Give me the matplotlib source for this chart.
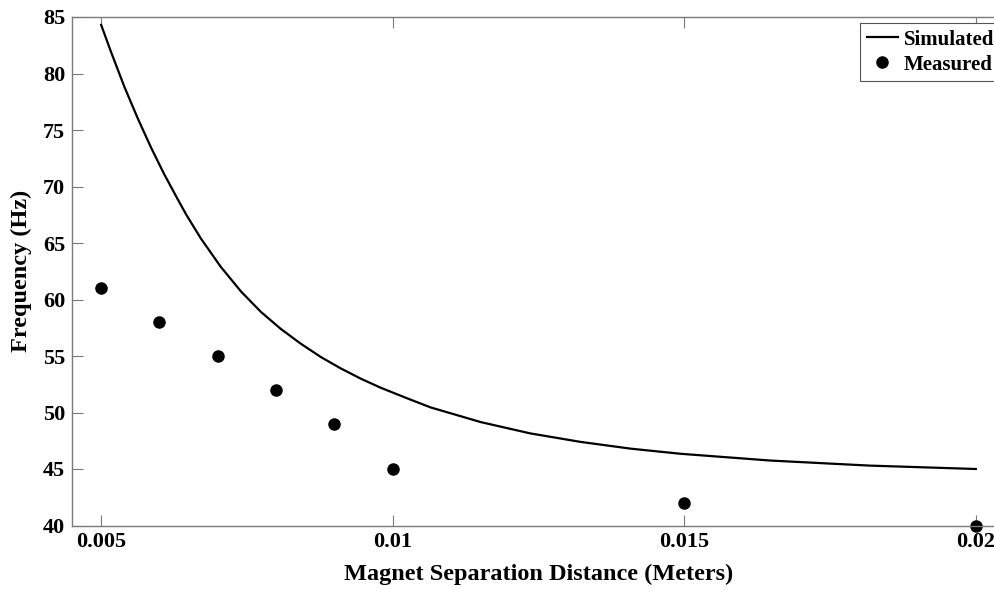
import matplotlib
matplotlib.use('Agg')
from matplotlib import pyplot as plt

# simulated curve
sim_x = [0.005, 0.00517, 0.0054, 0.00563, 0.00586, 0.00608, 0.00631, 0.00646,
         0.00671, 0.00705, 0.0074, 0.00774, 0.00808, 0.00842, 0.00877, 0.00911,
         0.00945, 0.00979, 0.01025, 0.01065, 0.01151, 0.01236, 0.01322, 0.01408,
         0.01493, 0.01647, 0.01818, 0.02]
sim_y = [84.3, 81.9, 78.8, 76.0, 73.4, 71.1, 68.9, 67.5,
         65.4, 62.9, 60.7, 58.9, 57.4, 56.1, 54.9, 53.9,
         53.0, 52.2, 51.25, 50.45, 49.15, 48.15, 47.4, 46.8,
         46.35, 45.75, 45.3, 45.0]

# measured points
meas_x = [0.005, 0.006, 0.007, 0.008, 0.009, 0.01, 0.015, 0.02]
meas_y = [61, 58, 55, 52, 49, 45, 42, 40]

xticks = [0.005, 0.01, 0.015, 0.02]
xtick_labels = ['0.005', '0.01', '0.015', '0.02']
yticks = [40, 45, 50, 55, 60, 65, 70, 75, 80, 85]

plt.rcParams['font.family'] = ['Liberation Serif', 'DejaVu Serif']
plt.rcParams['font.weight'] = 'bold'

fig = plt.figure(figsize=(9.95, 5.9), dpi=100)
# axes run past the right edge, like the cropped original
ax = fig.add_axes([72/995, 64.5/590, (1005-72)/995, (573-64.5)/590])

ax.plot(sim_x, sim_y, color='black', lw=1.6, label='Simulated')
ax.plot(meas_x, meas_y, 'o', color='black', ms=8, label='Measured', clip_on=False)

ax.set_xlim(0.0045, 0.0205)
ax.set_ylim(40, 85)
ax.set_xticks(xticks)
ax.set_xticklabels(xtick_labels)
ax.set_yticks(yticks)

gray = '#7a7a7a'
for s in ax.spines.values():
    s.set_color(gray)
    s.set_linewidth(1.0)
ax.tick_params(direction='in', length=8, width=0.8, color=gray, top=True, right=True,
               labelsize=16, pad=5)

ax.set_xlabel('Magnet Separation Distance (Meters)', fontsize=17.5, fontweight='bold', labelpad=8)
ax.set_ylabel('Frequency (Hz)', fontsize=17.5, fontweight='bold', labelpad=8)

leg = ax.legend(loc='upper right', bbox_to_anchor=(1 + 4/933, 1 + 2/508),
                handlelength=1.5, handletextpad=0.3,
                borderaxespad=0.4, fancybox=False, framealpha=1, borderpad=0.3,
                labelspacing=0.25, prop={'weight': 'bold', 'size': 15})
leg.get_frame().set_edgecolor('#555555')
leg.get_frame().set_linewidth(0.8)

fig.savefig('out.png', dpi=100)
